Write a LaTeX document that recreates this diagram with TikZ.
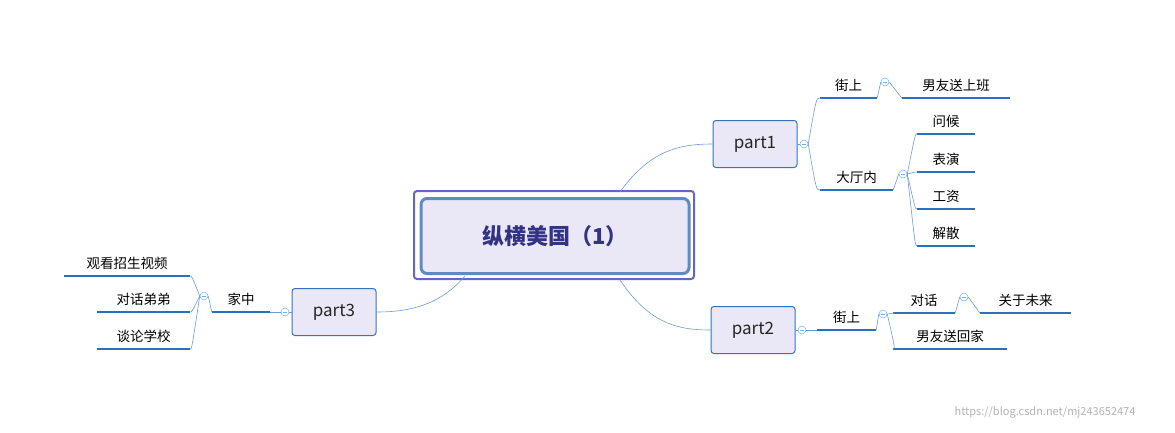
\documentclass[tikz,border=0pt]{standalone}
\usepackage{fontspec}
\setmainfont{Noto Sans CJK SC}
\begin{document}
\begin{tikzpicture}[x=1pt,y=-1pt,
  line/.style={draw=blue!45!cyan!60!black!70, line width=0.5pt},
  con/.style={draw=cyan!40!blue!60, line width=0.6pt},
  part/.style={draw=blue!55!cyan!70!black!80, fill=cyan!10!blue!8, rounded corners=3pt, line width=1pt, minimum width=84pt, minimum height=47pt, font=\fontsize{17}{17}\selectfont, text=black!85},
  leaf/.style={anchor=south, inner ysep=6pt, inner xsep=0pt, font=\fontsize{13.5}{14}\selectfont, text=black},
  ul/.style={draw=blue!50!cyan!70!black!85, line width=2pt},
  mk/.style={circle, draw=blue!50!cyan!60, line width=0.5pt, inner sep=0pt, minimum size=8pt, path picture={\draw[blue!50!cyan!60] ([xshift=-2pt]path picture bounding box.center) -- ([xshift=2pt]path picture bounding box.center);}}]
\useasboundingbox (0,0) rectangle (1175,432);
\definecolor{cb}{HTML}{6A9BD8}
\tikzset{con/.style={draw=cb, line width=0.6pt}}
% central
\node[draw=blue!60!black!60, line width=2pt, rounded corners=3pt, minimum width=280pt, minimum height=88pt] (co) at (554,235) {};
\node[draw=cb!90!black, fill=cyan!10!blue!8, line width=3pt, rounded corners=6pt, minimum width=268pt, minimum height=75pt, font=\bfseries\fontsize{22}{22}\selectfont, text=blue!40!black!80] (c) at (555,236) {纵横美国（1）};
% parts
\node[part] (p1) at (755,144) {part1};
\node[part] (p2) at (753,330) {part2};
\node[part] (p3) at (334,312) {part3};
\draw[con] (620,192) .. controls (650,150) and (680,144) .. (p1.west);
\draw[con] (620,280) .. controls (650,325) and (680,330) .. (p2.west);
\draw[con] (465,276) .. controls (440,305) and (410,312) .. (p3.east);
% markers
\node[mk] (m1) at (804,144) {};
\node[mk] (m2) at (802,330) {};
\node[mk] (m3) at (285,312) {};
\node[mk] (m11) at (885,82) {};
\node[mk] (m12) at (903,174) {};
\node[mk] (m21) at (883,314) {};
\node[mk] (m211) at (964,297) {};
\node[mk] (m31) at (204,296) {};
% leaves part1
\node[leaf, minimum width=57pt] (a1) at (848.5,98) {街上};
\node[leaf, minimum width=108pt] (a11) at (956,98) {男友送上班};
\node[leaf, minimum width=73pt] (a2) at (856.5,190) {大厅内};
\node[leaf, minimum width=58pt] (b1) at (946,134) {问候};
\node[leaf, minimum width=58pt] (b2) at (946,172) {表演};
\node[leaf, minimum width=58pt] (b3) at (946,209) {工资};
\node[leaf, minimum width=58pt] (b4) at (946,246) {解散};
% part2
\node[leaf, minimum width=59pt] (c1) at (846.5,330) {街上};
\node[leaf, minimum width=62pt] (c11) at (924,313) {对话};
\node[leaf, minimum width=91pt] (c111) at (1025.5,313) {关于未来};
\node[leaf, minimum width=114pt] (c12) at (950,349) {男友送回家};
% part3
\node[leaf, minimum width=58pt] (d1) at (241,312) {家中};
\node[leaf, minimum width=126pt] (d11) at (127,276) {观看招生视频};
\node[leaf, minimum width=93pt] (d12) at (143.5,312) {对话弟弟};
\node[leaf, minimum width=93pt] (d13) at (143.5,349) {谈论学校};
\foreach \n in {a1,a11,a2,b1,b2,b3,b4,c1,c11,c111,c12,d1,d11,d12,d13}
  \draw[ul] (\n.south west) -- (\n.south east);
% brackets
\foreach \s/\t in {m1/a1,m1/a2,m12/b1,m12/b2,m12/b3,m12/b4,m21/c11,m21/c12}
  \draw[con] (\s.east) .. controls ([xshift=8pt]\s.east |- \t.south west) .. (\t.south west);
\foreach \s/\t in {m11/a11,m2/c1,m211/c111}
  \draw[con] (\s.east) -- (\t.south west);
\foreach \s/\t in {m31/d11,m31/d12,m31/d13}
  \draw[con] (\s.west) .. controls ([xshift=-8pt]\s.west |- \t.south east) .. (\t.south east);
\draw[con] (m3.west) -- (d1.south east);
\draw[con] (p1.east) -- (m1.west);
\draw[con] (p2.east) -- (m2.west);
\draw[con] (p3.west) -- (m3.east);
\draw[con] (a1.south east) -- (m11.west);
\draw[con] (a2.south east) -- (m12.west);
\draw[con] (c1.south east) -- (m21.west);
\draw[con] (c11.south east) -- (m211.west);
\draw[con] (d1.south west) -- (m31.east);
\node[text=black!30, font=\fontsize{11}{11}\selectfont] (wm) at (1045,412) {https://blog.csdn.net/mj243652474};
\end{tikzpicture}
\end{document}
